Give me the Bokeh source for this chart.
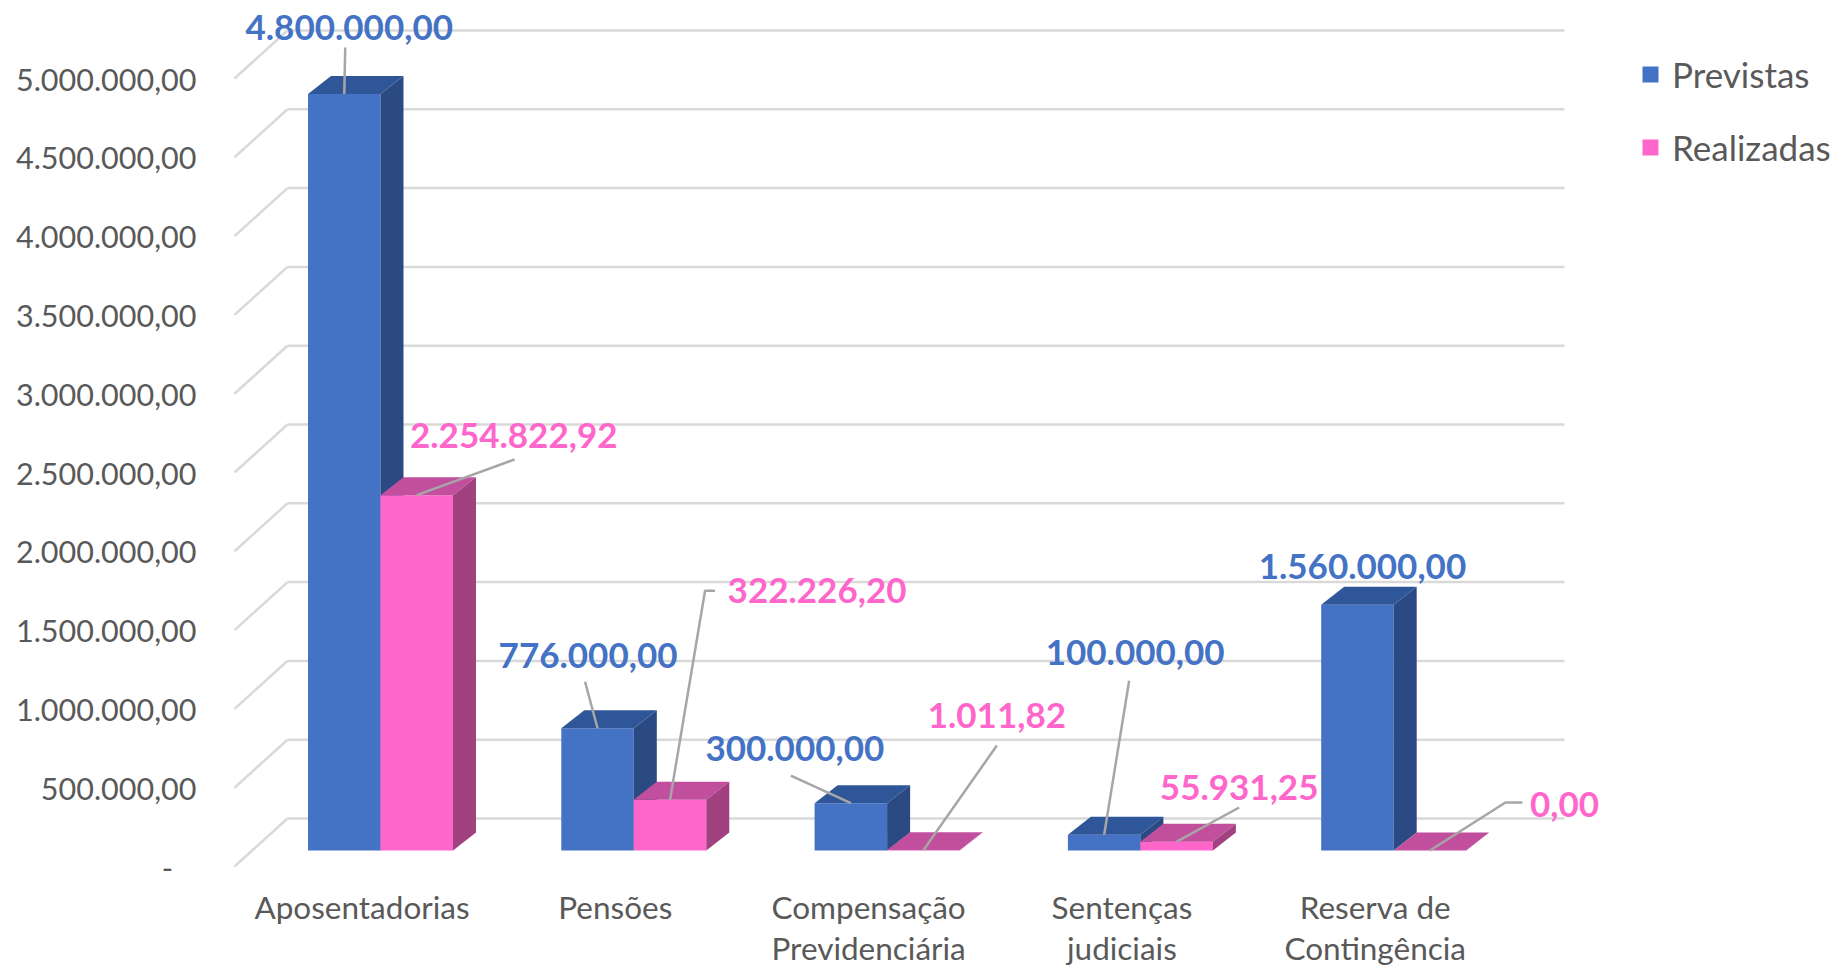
from bokeh.plotting import figure
from bokeh.models import Range1d, FixedTicker, Legend, LegendItem
from bokeh.core.properties import value
from bokeh.embed import file_html
from bokeh.resources import INLINE

# ---------------- data ----------------
categories = ["Aposentadorias", "Pensões", "Compensação\nPrevidenciária",
              "Sentenças\njudiciais", "Reserva de\nContingência"]
series_names = ["Previstas", "Realizadas"]
previstas = [4800000.00, 776000.00, 300000.00, 100000.00, 1560000.00]
realizadas = [2254822.92, 322226.20, 1011.82, 55931.25, 0.00]
y_ticks = [0, 500000, 1000000, 1500000, 2000000, 2500000,
           3000000, 3500000, 4000000, 4500000, 5000000]
y_tick_labels = ["-\u00a0\u00a0\u00a0", "500.000,00", "1.000.000,00", "1.500.000,00", "2.000.000,00",
                 "2.500.000,00", "3.000.000,00", "3.500.000,00", "4.000.000,00",
                 "4.500.000,00", "5.000.000,00"]


def fmt_br(v):
    s = f"{v:,.2f}"
    return s.replace(",", "#").replace(".", ",").replace("#", ".")


# ---------------- layout (screen px) ----------------
W, H = 1833, 965
FRAME_LEFT = 205
X0 = 361.5          # screen x of category 0 on the front plane
SX = 253.3          # px per category step
Y0 = 866.0          # screen y of value 0 on the front plane
KY = 788.0 / 5e6    # px per value unit
GRID_FRONT_X = 234.0
DEPTH_DX, DEPTH_DY = 53.0, 48.0      # front plane -> back wall
GRID_RIGHT_X = 1564.0
FACE_DX, FACE_DY = 18.5, 16.0        # front plane -> bar front faces
BAR_W = 72.5
BAR_DX, BAR_DY = 23.0, 18.0          # bar depth

def ux(px):
    return px / SX

def uy(px):
    return px / KY

FONT = "Lato"
GREY = "#595959"
GRID = "#D9D9D9"
FRONT = ["#4472C4", "#FF66CC"]
TOPC = ["#30569A", "#C24F9E"]
SIDE = ["#2B4A84", "#A2417F"]
LABEL_C = ["#4472C4", "#FF66CC"]

# data-label offsets (px) from the bar's front-top centre
label_off = [
    [(5, -67), (-9.5, -72.5), (-56, -54.5), (31, -182), (5, -38)],
    [(97, -59.5), (147, -209), (73.5, -134.5), (62.5, -54), (134.5, -46)],
]
leader_start = [
    [(1, -46.5), (-12.5, -46.5), (-60, -27.5), (25, -154), None],
    [(97.75, -35.6), (45, -209), (73.5, -104.8), (62.5, -34.2), (92.5, -48)],
]
leader_elbow = [
    [None, None, None, None, None],
    [None, (35, -209), None, None, (75.5, -48)],
]

p = figure(width=W, height=H,
           x_range=Range1d(ux(FRAME_LEFT - X0), ux(W - X0)),
           y_range=Range1d(-uy(H - Y0), uy(Y0)),
           x_axis_type=None, output_backend="svg", toolbar_location=None,
           min_border_left=FRAME_LEFT, min_border_right=0,
           min_border_top=0, min_border_bottom=0)
p.xgrid.visible = False
p.ygrid.visible = False
p.outline_line_color = None
p.background_fill_color = "white"
p.border_fill_color = "white"

ax = p.yaxis[0]
ax.ticker = FixedTicker(ticks=y_ticks)
ax.major_label_overrides = {t: l for t, l in zip(y_ticks, y_tick_labels)}
ax.axis_line_color = None
ax.major_tick_line_color = None
ax.minor_tick_line_color = None
ax.major_tick_out = 0
ax.major_tick_in = 0
ax.major_label_standoff = 9
ax.major_label_text_font = FONT
ax.major_label_text_font_size = "30.5px"
ax.major_label_text_color = GREY

# ---------------- gridlines (front diagonals + back wall) ----------------
diag_xs, diag_ys, back_xs, back_ys = [], [], [], []
for t in y_ticks:
    diag_xs.append([ux(GRID_FRONT_X - X0), ux(GRID_FRONT_X + DEPTH_DX - X0)])
    diag_ys.append([t, t + uy(DEPTH_DY)])
    back_xs.append([ux(GRID_FRONT_X + DEPTH_DX - X0), ux(GRID_RIGHT_X - X0)])
    back_ys.append([t + uy(DEPTH_DY), t + uy(DEPTH_DY)])
p.multi_line(diag_xs, diag_ys, line_color=GRID, line_width=2.5)
p.multi_line(back_xs, back_ys, line_color=GRID, line_width=2.5)

# ---------------- 3D bars ----------------
renderers = []
anchors = []
for s, vals in enumerate([previstas, realizadas]):
    lefts, rights, bottoms, tops = [], [], [], []
    top_xs, top_ys, side_xs, side_ys = [], [], [], []
    anc = []
    for i, v in enumerate(vals):
        L = i + ux(FACE_DX + (s - 1) * BAR_W)
        R = L + ux(BAR_W)
        b = uy(FACE_DY)
        t = b + v
        lefts.append(L); rights.append(R); bottoms.append(b); tops.append(t)
        dx, dy = ux(BAR_DX), uy(BAR_DY)
        top_xs.append([L, R, R + dx, L + dx])
        top_ys.append([t, t, t + dy, t + dy])
        side_xs.append([R, R, R + dx, R + dx])
        side_ys.append([b, t, t + dy, b + dy])
        anc.append(((L + R) / 2, t))
    r = p.quad(left=lefts, right=rights, bottom=bottoms, top=tops,
               fill_color=FRONT[s], line_color=None)
    p.patches(top_xs, top_ys, fill_color=TOPC[s], line_color=None)
    p.patches(side_xs, side_ys, fill_color=SIDE[s], line_color=None)
    renderers.append(r)
    anchors.append(anc)

# ---------------- data labels + leader lines ----------------
for s, vals in enumerate([previstas, realizadas]):
    lx, ly, txt = [], [], []
    lxs, lys = [], []
    for i, v in enumerate(vals):
        axx, ayy = anchors[s][i]
        ox, oy = label_off[s][i]
        lx.append(axx + ux(ox)); ly.append(ayy - uy(oy)); txt.append(fmt_br(v))
        st = leader_start[s][i]
        if st is not None:
            pts = [st]
            if leader_elbow[s][i] is not None:
                pts.append(leader_elbow[s][i])
            xs = [axx + ux(q[0]) for q in pts] + [axx]
            ys = [ayy - uy(q[1]) for q in pts] + [ayy]
            lxs.append(xs); lys.append(ys)
    p.multi_line(lxs, lys, line_color="#A6A6A6", line_width=2.5)
    p.text(x=lx, y=ly, text=txt, text_align="center", text_baseline="middle",
           text_font=value(FONT), text_font_style="bold", text_font_size="35px",
           text_color=LABEL_C[s])

# ---------------- category labels ----------------
line1 = [c.split("\n")[0] for c in categories]
line2 = [c.split("\n")[1] if "\n" in c else "" for c in categories]
cx = list(range(len(categories)))
p.text(x=cx, y=[-uy(906 - Y0)] * len(cx), text=line1, text_align="center",
       text_baseline="middle", text_font=value(FONT), text_font_size="31.5px",
       text_color=GREY)
p.text(x=cx, y=[-uy(947 - Y0)] * len(cx), text=line2, text_align="center",
       text_baseline="middle", text_font=value(FONT), text_font_size="31.5px",
       text_color=GREY)

# ---------------- legend ----------------
legend = Legend(items=[LegendItem(label=n, renderers=[r]) for n, r in zip(series_names, renderers)],
                location=(1640 - FRAME_LEFT, H - 168),
                orientation="vertical", border_line_color=None, background_fill_alpha=0,
                padding=0, margin=0, spacing=31, glyph_width=20, glyph_height=20,
                label_height=40, label_standoff=12,
                label_text_font=FONT, label_text_font_size="35px", label_text_color=GREY)
p.add_layout(legend, "center")

open("out.html", "w").write(file_html(p, INLINE))
